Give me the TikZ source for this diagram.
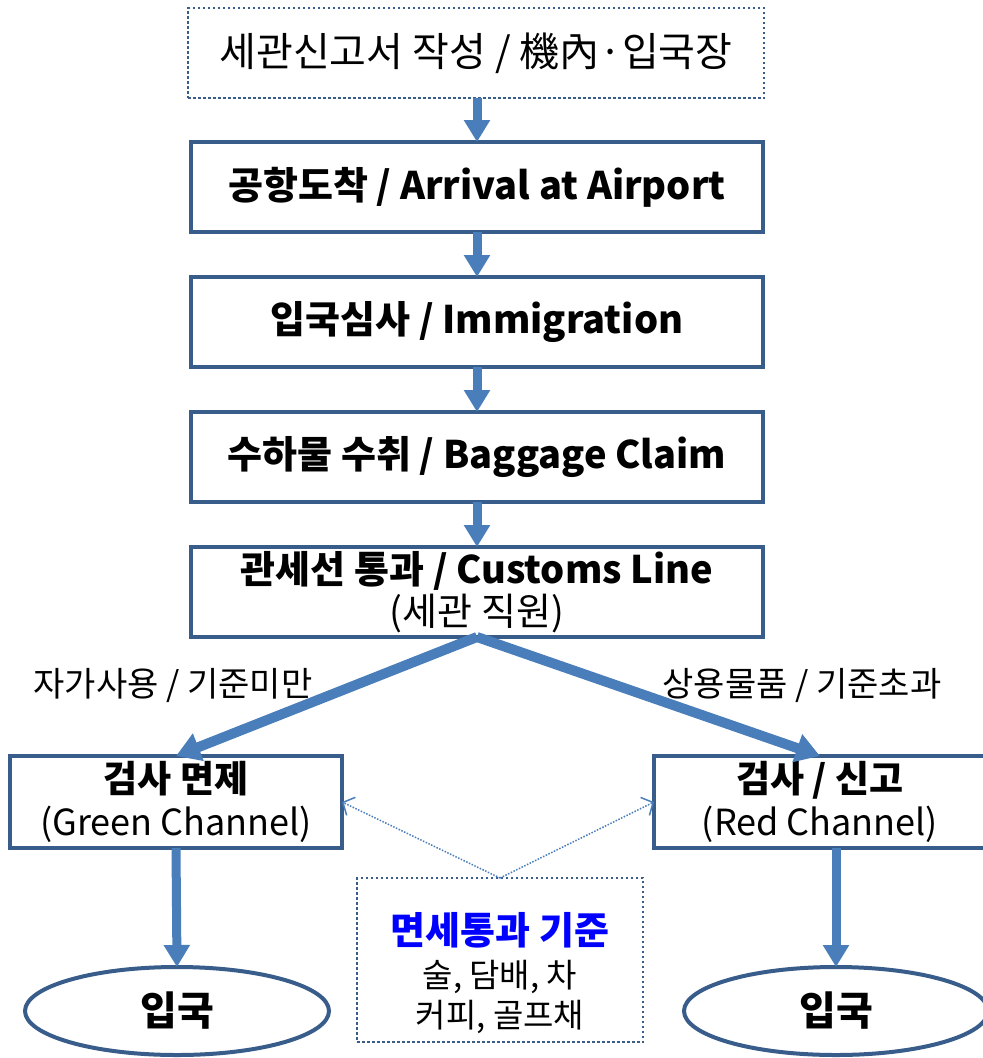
\documentclass[tikz,border=0pt]{standalone}
\usepackage{fontspec}
\setmainfont{Noto Sans CJK KR}
\usetikzlibrary{positioning,arrows.meta,shapes.geometric}
\definecolor{boxline}{HTML}{385D8A}
\definecolor{flowblue}{HTML}{4A7EBB}
\definecolor{ruleblue}{HTML}{0000FF}
\tikzset{
  stepbox/.style={rectangle, draw=boxline, line width=4pt, minimum width=572pt, minimum height=90pt,
                  outer sep=0pt, inner sep=0pt, align=center, font=\fontsize{38}{42}\selectfont\bfseries},
  sidebox/.style={stepbox, minimum width=332pt, minimum height=92pt, font=\fontsize{37}{43}\selectfont\bfseries},
  notebox/.style={rectangle, draw=boxline, line width=2.5pt, dash pattern=on 2.5pt off 2.5pt,
                  outer sep=0pt, inner sep=0pt, align=center},
  entry/.style={ellipse, draw=boxline, line width=4pt, minimum width=304pt, minimum height=88pt,
                outer sep=0pt, font=\fontsize{40}{44}\selectfont\bfseries},
  pathlabel/.style={font=\fontsize{34}{38}\selectfont, inner sep=0pt},
  flow/.style={draw=flowblue, line width=9pt, -{Triangle[width=25pt,length=22pt]}},
  branch/.style={draw=flowblue, line width=10pt, -{Triangle[width=28pt,length=24pt]}},
  hint/.style={draw=flowblue, line width=1.5pt, dash pattern=on 1.5pt off 1.5pt,
               -{Straight Barb[width=20pt,length=9pt,line width=1.5pt]}},
}
\begin{document}
\begin{tikzpicture}[x=1pt, y=-1pt, node distance=45pt]
  \useasboundingbox[fill=white] (0,0) rectangle (983,1058);
  \node[notebox, minimum width=576pt, minimum height=90pt, font=\fontsize{40}{44}\selectfont] (declare) at (476,53) {세관신고서 작성 / 機內·입국장};
  \node[stepbox] (arrival) at (477,187) {공항도착 / Arrival at Airport};
  \node[stepbox] (immig) [below=of arrival] {입국심사 / Immigration};
  \node[stepbox] (baggage) [below=of immig] {수하물 수취 / Baggage Claim};
  \node[stepbox] (customs) [below=of baggage] {관세선 통과 / Customs Line\\ \mdseries\fontsize{38}{42}\selectfont (세관 직원)};

  \node[sidebox] (green) at (176,802) {검사 면제\\ \mdseries\fontsize{36}{43}\selectfont (Green Channel)};
  \node[sidebox] (red) at (820,802) {검사 / 신고\\ \mdseries\fontsize{36}{43}\selectfont (Red Channel)};
  \node[pathlabel] (selfuse) at (173,685) {자가사용 / 기준미만};
  \node[pathlabel] (commerce) at (802,685) {상용물품 / 기준초과};

  \node[entry] (entryL) at (177,1011) {입국};
  \node[entry] (entryR) at (836,1011) {입국};
  \node[notebox, minimum width=286pt, minimum height=164pt, font=\fontsize{33}{40}\selectfont] (dutyfree) at (500,960)
    {\rule{0pt}{58pt}\textcolor{ruleblue}{\bfseries\fontsize{38}{44}\selectfont 면세통과 기준}\\[3pt] 술, 담배, 차\\ 커피, 골프채};

  \draw[flow] (declare.south -| arrival.north) -- (arrival.north);
  \draw[flow] (arrival.south) -- (immig.north);
  \draw[flow] (immig.south) -- (baggage.north);
  \draw[flow] (baggage.south) -- (customs.north);
  \draw[branch] (customs.south) -- (green.north);
  \draw[branch] (customs.south) -- (red.north);
  \draw[flow] (green.south) -- (entryL.north);
  \draw[flow] (entryR.north |- red.south) -- (entryR.north);
  \draw[hint] (dutyfree.north) -- (green.east);
  \draw[hint] (dutyfree.north) -- (red.west);
\end{tikzpicture}
\end{document}
